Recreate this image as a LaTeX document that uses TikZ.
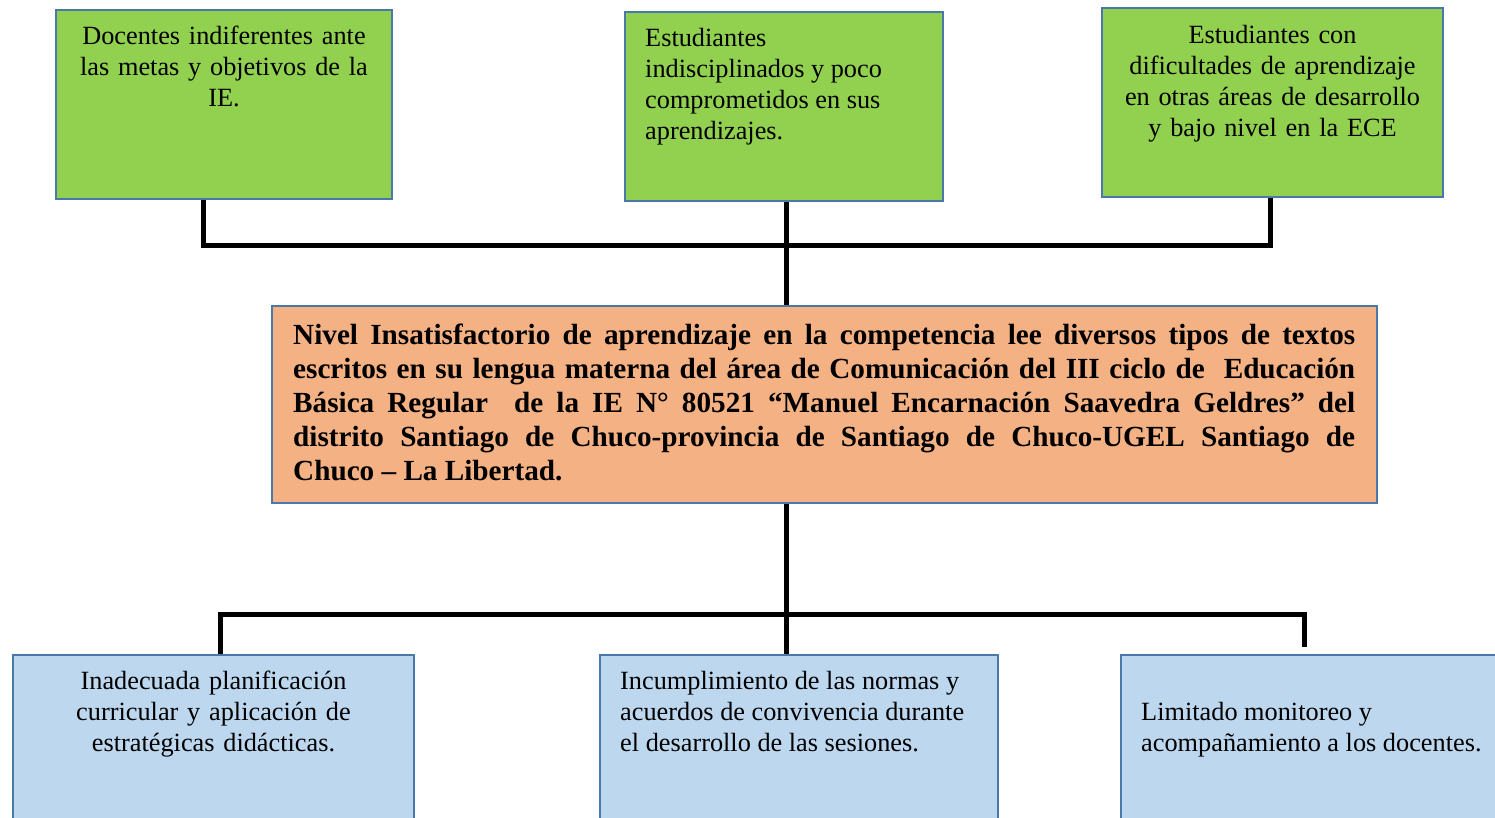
\documentclass[tikz,border=0pt]{standalone}
\usepackage{fontspec}
\setmainfont{Liberation Serif}
\usetikzlibrary{positioning}
\definecolor{efectogreen}{HTML}{92D050}
\definecolor{problemaorange}{HTML}{F4B183}
\definecolor{causablue}{HTML}{BDD7EE}
\definecolor{boxborder}{HTML}{4A78AA}
\tikzstyle{treebox}=[draw=boxborder,line width=2pt,anchor=north west,inner sep=0pt]
\tikzstyle{efecto}=[treebox,fill=efectogreen,minimum height=189pt]
\tikzstyle{causa}=[treebox,fill=causablue,minimum height=185pt]
\tikzstyle{boxtext}=[inner sep=0pt,font=\fontsize{26.3}{31}\selectfont]
\tikzstyle{connector}=[draw,line width=5pt]

\begin{document}
\begin{tikzpicture}[x=1pt,y=-1pt]
  \useasboundingbox (0,0) rectangle (1495,817);
  \clip (0,0) rectangle (1495,817);

  % efectos
  \node(efecto1)[efecto,minimum width=336pt] at (55,9) {};
  \node(efecto2)[efecto,minimum width=318pt] at (624,11) {};
  \node(efecto3)[efecto,minimum width=341pt] at (1101,7) {};
  \node(efecto1text)[boxtext,align=center,text width=330pt,below=17pt of efecto1.north]
    {Docentes indiferentes ante\\las metas y objetivos de la\\IE.};
  \node(efecto2text)[boxtext,align=left,below right=17pt and 21pt of efecto2.north west]
    {Estudiantes\\indisciplinados y poco\\comprometidos en sus\\aprendizajes.};
  \node(efecto3text)[boxtext,align=center,text width=335pt,below=18pt of efecto3.north]
    {Estudiantes con\\dificultades de aprendizaje\\en otras áreas de desarrollo\\y bajo nivel en la ECE};

  % problema central
  \node(problema)[treebox,fill=problemaorange,minimum width=1105pt,minimum height=197pt] at (271,305) {};
  \node(problematext)[boxtext,font=\fontsize{29.2}{34}\selectfont\bfseries,align=justify,text width=1062pt,
    below right=19pt and 22pt of problema.north west]
    {Nivel Insatisfactorio de aprendizaje en la competencia lee diversos tipos de textos\linebreak
     escritos en su lengua materna del área de Comunicación del III ciclo de\ \ Educación\linebreak
     Básica Regular\ \ de la IE N° 80521 “Manuel Encarnación Saavedra Geldres” del\linebreak
     distrito Santiago de Chuco-provincia de Santiago de Chuco-UGEL Santiago de\linebreak
     Chuco – La Libertad.};

  % causas
  \node(causa1)[causa,minimum width=401pt] at (12,654) {};
  \node(causa2)[causa,minimum width=398pt] at (599,654) {};
  \node(causa3)[causa,minimum width=390pt] at (1120,654) {};
  \node(causa1text)[boxtext,align=center,text width=395pt,below=17pt of causa1.north]
    {Inadecuada planificación\\curricular y aplicación de\\estratégicas didácticas.};
  \node(causa2text)[boxtext,align=left,below right=17pt and 21pt of causa2.north west]
    {Incumplimiento de las normas y\\acuerdos de convivencia durante\\el desarrollo de las sesiones.};
  \node(causa3text)[boxtext,align=left,below right=48pt and 21pt of causa3.north west]
    {Limitado monitoreo y\\acompañamiento a los docentes.};

  % conectores
  \coordinate(topbusL) at (203,245);
  \coordinate(topbusR) at (1270,245);
  \coordinate(spine) at (786,0);
  \coordinate(botbusL) at (220,614);
  \coordinate(botbusR) at (1304,614);
  \coordinate(botbusRend) at (1304,647);
  \path[connector] (efecto1.south -| topbusL) -- (topbusL) -- (topbusR) -- (efecto3.south -| topbusR);
  \path[connector] (efecto2.south -| spine) -- (problema.north -| spine);
  \path[connector] (problema.south -| spine) -- (causa2.north -| spine);
  \path[connector] (causa1.north -| botbusL) -- (botbusL) -- (botbusR) -- (botbusRend);
\end{tikzpicture}
\end{document}
